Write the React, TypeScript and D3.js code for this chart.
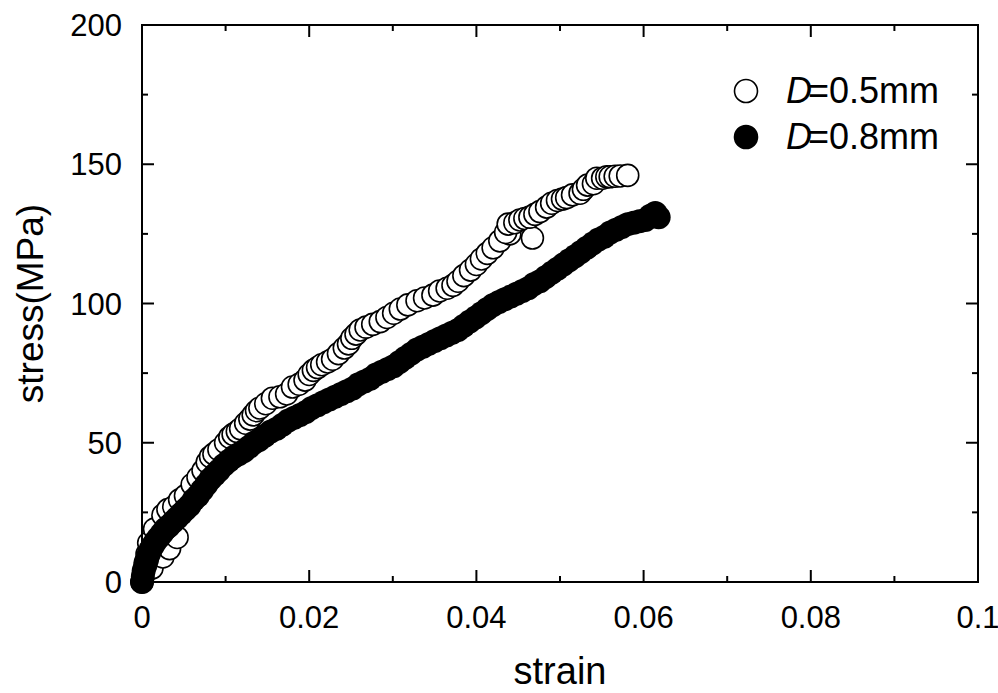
import React from 'react';
import * as d3 from 'd3';

// stress-strain curves, two wire diameters
const xMajorTicks = [0, 0.02, 0.04, 0.06, 0.08, 0.1];
const xTickLabels = ['0', '0.02', '0.04', '0.06', '0.08', '0.1'];
const xMinorTicks = [0.01, 0.03, 0.05, 0.07, 0.09];
const yMajorTicks = [0, 50, 100, 150, 200];
const yMinorTicks = [25, 75, 125, 175];

// D = 0.5mm (open circles): [strain, stress MPa]
const seriesD05: [number, number][] = [
  [0, 0], [0.0002, 3], [0.0004, 7], [0.0006, 10], [0.0012, 5], [0.0025, 9], [0.0033, 12], [0.0042, 16],
  [0.0008, 14], [0.0015, 19], [0.0025, 24], [0.0031, 26], [0.0038, 27], [0.0045, 29.5], [0.0052, 31],
  [0.006, 35], [0.0067, 37.5], [0.0073, 40], [0.0078, 43], [0.0082, 45], [0.0086, 46], [0.0092, 47.5],
  [0.01, 50], [0.0105, 52], [0.0109, 53], [0.0114, 54], [0.0118, 55], [0.0124, 57], [0.0129, 58.5],
  [0.0133, 60], [0.0137, 61.5], [0.0141, 62.5], [0.0148, 64], [0.0156, 66], [0.0165, 66.5],
  [0.0173, 67.5], [0.018, 70], [0.0188, 71], [0.0195, 72.5], [0.02, 74.5], [0.0205, 76], [0.021, 77],
  [0.0215, 78], [0.0222, 79], [0.0228, 80], [0.0235, 82], [0.0242, 84], [0.0247, 85.5], [0.0251, 87.5],
  [0.0256, 89], [0.0261, 90.5], [0.0268, 91.5], [0.0276, 92.5], [0.0285, 93.5], [0.0293, 95],
  [0.0301, 96.5], [0.0309, 98], [0.0318, 99.5], [0.0329, 101], [0.0338, 102], [0.0348, 103],
  [0.0356, 104.5], [0.0365, 105.5], [0.0372, 106.5], [0.0378, 108], [0.0385, 110], [0.0393, 112],
  [0.04, 114], [0.0406, 116], [0.0413, 118], [0.042, 120], [0.0428, 122.5], [0.044, 125], [0.0435, 125.5],
  [0.0438, 128.5], [0.0446, 129], [0.0452, 130], [0.0458, 130.5], [0.0467, 123.5], [0.0464, 131],
  [0.047, 132], [0.0476, 133], [0.0484, 134.6], [0.049, 136], [0.0497, 137], [0.0503, 137.5],
  [0.0508, 138], [0.0515, 139], [0.0524, 139.6], [0.0528, 141], [0.0533, 142.5], [0.054, 143],
  [0.0544, 145], [0.0551, 145], [0.0556, 145.5], [0.056, 145.5], [0.0566, 145.7], [0.0572, 145.8],
  [0.0581, 146],
];

// D = 0.8mm (filled circles): [strain, stress MPa]
const seriesD08: [number, number][] = [
  [0, 0], [0.0001, 2], [0.0002, 4], [0.0004, 6], [0.0006, 8], [0.0008, 10], [0.001, 11.5], [0.0013, 13],
  [0.0016, 14.5], [0.002, 16], [0.0024, 17.5], [0.0028, 19], [0.0032, 20], [0.0037, 21.5], [0.0042, 23],
  [0.0047, 24.5], [0.0052, 26], [0.0057, 27.5], [0.0062, 29.5], [0.0067, 31], [0.0072, 33], [0.0077, 35],
  [0.0082, 37], [0.0087, 38.5], [0.0092, 40], [0.0098, 42], [0.0104, 43.5], [0.011, 45], [0.0116, 46],
  [0.0122, 47], [0.0128, 48.5], [0.0134, 50], [0.014, 51], [0.0147, 52.5], [0.0154, 54], [0.0161, 55],
  [0.0168, 56.5], [0.0175, 58], [0.0182, 59], [0.0189, 60], [0.0196, 61], [0.0203, 62.5], [0.021, 63.5],
  [0.0217, 64.5], [0.0224, 65.5], [0.0231, 66.5], [0.0238, 67.5], [0.0245, 68.5], [0.0252, 69.5],
  [0.0259, 71], [0.0266, 72], [0.0273, 73], [0.028, 74.5], [0.0287, 75.5], [0.0294, 76.5], [0.0301, 77.5],
  [0.0308, 79], [0.0315, 80.5], [0.0322, 82], [0.0329, 83.5], [0.0336, 84.5], [0.0343, 85.5], [0.035, 86.5],
  [0.0357, 87.5], [0.0364, 88.5], [0.0371, 89.5], [0.0378, 90.5], [0.0385, 92], [0.0392, 93.5], [0.0399, 95],
  [0.0406, 96.5], [0.0413, 98], [0.042, 99.5], [0.0427, 100.5], [0.0434, 101.5], [0.0441, 102.5], [0.0448, 103.5],
  [0.0455, 104.5], [0.0462, 105.5], [0.0469, 107], [0.0476, 108], [0.0483, 109.5], [0.049, 111],
  [0.0497, 112.5], [0.0504, 114], [0.0511, 115.5], [0.0518, 117], [0.0525, 118.5], [0.0532, 120],
  [0.0539, 121.5], [0.0546, 123], [0.0553, 124], [0.056, 125.5], [0.0567, 126.5], [0.0574, 127.5],
  [0.0581, 128.5], [0.0588, 129], [0.0595, 129.5], [0.0602, 130], [0.0608, 131.5], [0.0614, 132.5],
  [0.0618, 131],
];

const legendItems = [
  { label: '=0.5mm', filled: false },
  { label: '=0.8mm', filled: true },
];

const W = 998;
const H = 693;
const margin = { left: 142, right: 20, top: 25, bottom: 111 };
const FONT = '"Liberation Sans", Arial, Helvetica, sans-serif';

export default function App() {
  const x = d3.scaleLinear().domain([0, 0.1]).range([margin.left, W - margin.right]);
  const y = d3.scaleLinear().domain([0, 200]).range([H - margin.bottom, margin.top]);
  const [x0, x1] = x.range();
  const [y0, y1] = y.range(); // y0 bottom, y1 top
  const major = 12;
  const minor = 6;

  return (
    <svg width={W} height={H} style={{ position: 'absolute', left: 0, top: 0, fontFamily: FONT }}>
      <rect x={0} y={0} width={W} height={H} fill="#fff" />

      {/* markers: open first, filled on top */}
      <g>
        {seriesD05.map((d, i) => (
          <circle key={'o' + i} cx={x(d[0])} cy={y(d[1])} r={11} fill="#fff" stroke="#000" strokeWidth={1.6} />
        ))}
        {seriesD08.map((d, i) => (
          <circle key={'f' + i} cx={x(d[0])} cy={y(d[1])} r={12} fill="#000" />
        ))}
      </g>

      {/* frame */}
      <rect x={x0} y={y1} width={x1 - x0} height={y0 - y1} fill="none" stroke="#000" strokeWidth={2} />

      {/* ticks on all four sides, pointing inward */}
      <g stroke="#000" strokeWidth={2}>
        {xMajorTicks.map((t) => (
          <g key={'xm' + t}>
            <line x1={x(t)} x2={x(t)} y1={y0} y2={y0 - major} />
            <line x1={x(t)} x2={x(t)} y1={y1} y2={y1 + major} />
          </g>
        ))}
        {xMinorTicks.map((t) => (
          <g key={'xn' + t}>
            <line x1={x(t)} x2={x(t)} y1={y0} y2={y0 - minor} />
            <line x1={x(t)} x2={x(t)} y1={y1} y2={y1 + minor} />
          </g>
        ))}
        {yMajorTicks.map((t) => (
          <g key={'ym' + t}>
            <line x1={x0} x2={x0 + major} y1={y(t)} y2={y(t)} />
            <line x1={x1} x2={x1 - major} y1={y(t)} y2={y(t)} />
          </g>
        ))}
        {yMinorTicks.map((t) => (
          <g key={'yn' + t}>
            <line x1={x0} x2={x0 + minor} y1={y(t)} y2={y(t)} />
            <line x1={x1} x2={x1 - minor} y1={y(t)} y2={y(t)} />
          </g>
        ))}
      </g>

      {/* tick labels */}
      <g fontSize={31} fill="#000">
        {xMajorTicks.map((t, i) => (
          <text key={'xl' + t} x={x(t)} y={y0 + 46} textAnchor="middle">{xTickLabels[i]}</text>
        ))}
        {yMajorTicks.map((t) => (
          <text key={'yl' + t} x={x0 - 20} y={y(t) + 11} textAnchor="end">{t}</text>
        ))}
      </g>

      {/* axis titles */}
      <text x={(x0 + x1) / 2} y={684} fontSize={38} textAnchor="middle">strain</text>
      <text transform={`translate(43,${(y0 + y1) / 2}) rotate(-90)`} fontSize={37} textAnchor="middle">stress(MPa)</text>

      {/* legend */}
      <g>
        {legendItems.map((d, i) => (
          <g key={d.label} transform={`translate(746,${91 + i * 46})`}>
            <circle r={11.5} fill={d.filled ? '#000' : '#fff'} stroke="#000" strokeWidth={1.6} />
            <text x={40} y={12} fontSize={36}>
              <tspan fontStyle="italic">D</tspan>
              <tspan dx={-4}>{d.label}</tspan>
            </text>
          </g>
        ))}
      </g>
    </svg>
  );
}
